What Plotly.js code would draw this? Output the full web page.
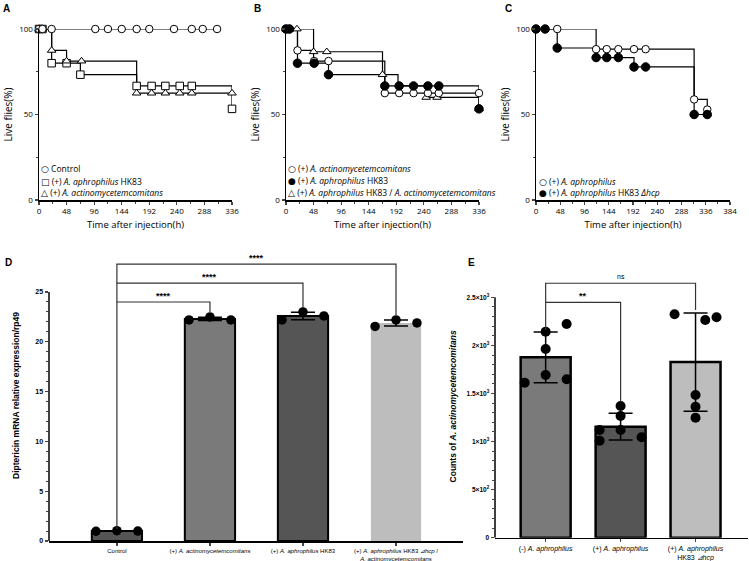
<!DOCTYPE html>
<html><head><meta charset="utf-8">
<script src="https://cdn.plot.ly/plotly-3.0.1.min.js"></script>
<style>html,body{margin:0;padding:0;background:#fff}#chart{width:749px;height:561px}</style>
</head><body><div id="chart"></div>
<script>
// ================= DATA =================
// Survival tick labels
const survTicksAB = [0, 48, 96, 144, 192, 240, 288, 336];
const survTicksC = [0, 48, 96, 144, 192, 240, 288, 336, 384];
const survYTicks = [0, 50, 100];

// Panel A
const aNames = ['Control', '(+) <i>A. aphrophilus</i> HK83', '(+) <i>A. actinomycetemcomitans</i>'];
const aCtrlStepT = [0, 312];
const aCtrlStepS = [100, 100];
const aCtrlMarkT = [0, 6, 22, 98, 120, 144, 170, 192, 235, 266, 285, 310];
const aCtrlMarkS = [100, 100, 100, 100, 100, 100, 100, 100, 100, 100, 100, 100];
const aHkStepT = [0, 22, 72, 170, 336];
const aHkStepS = [100, 80, 73.3, 66.7, 53.3];
const aHkMarkT = [0, 6, 22, 48, 72, 170, 196, 220, 245, 266, 336];
const aHkMarkS = [100, 100, 80, 80, 73.3, 66.7, 66.7, 66.7, 66.7, 66.7, 53.3];
const aAaStepT = [0, 22, 48, 170, 336];
const aAaStepS = [100, 87.5, 81.25, 62.5, 62.5];
const aAaMarkT = [0, 6, 22, 48, 74, 170, 196, 220, 245, 266, 336];
const aAaMarkS = [100, 100, 87.5, 81.25, 81.25, 62.5, 62.5, 62.5, 62.5, 62.5, 62.5];

// Panel B
const bNames = ['(+) <i>A. actinomycetemcomitans</i>', '(+) <i>A. aphrophilus</i> HK83', '(+) <i>A. aphrophilus</i> HK83 / <i>A. actinomycetemcomitans</i>'];
const bAaStepT = [0, 20, 48, 172, 336];
const bAaStepS = [100, 87.5, 81.25, 62.5, 62.5];
const bAaMarkT = [0, 6, 20, 49, 74, 172, 197, 222, 247, 266, 336];
const bAaMarkS = [100, 100, 87.5, 81.25, 81.25, 62.5, 62.5, 62.5, 62.5, 62.5, 62.5];
const bHkStepT = [0, 20, 74, 172, 336];
const bHkStepS = [100, 80, 73.3, 66.7, 53.3];
const bHkMarkT = [0, 6, 20, 49, 74, 172, 197, 222, 247, 266, 336];
const bHkMarkS = [100, 100, 80, 80, 73.3, 66.7, 66.7, 66.7, 66.7, 66.7, 53.3];
const bMixStepT = [0, 48, 168, 195, 244, 336];
const bMixStepS = [100, 86.7, 73.3, 66.7, 60, 53.3];
const bMixMarkT = [0, 6, 19, 48, 71, 168, 244, 263, 336];
const bMixMarkS = [100, 100, 100, 86.7, 86.7, 73.3, 60, 60, 53.3];

// Panel C
const cNames = ['(+) <i>A. aphrophilus</i>', '(+) <i>A. aphrophilus</i> HK83 <i>Δhcp</i>'];
const cApStepT = [0, 119, 313, 339];
const cApStepS = [100, 88.2, 58.8, 52.9];
const cApMarkT = [0, 42, 119, 140, 163, 194, 217, 313, 339];
const cApMarkS = [100, 100, 88.2, 88.2, 88.2, 88.2, 88.2, 58.8, 52.9];
const cDhStepT = [0, 42, 119, 194, 313, 339];
const cDhStepS = [100, 88.9, 83.3, 77.8, 50, 50];
const cDhMarkT = [0, 18, 42, 119, 140, 163, 194, 217, 313, 339];
const cDhMarkS = [100, 100, 88.9, 83.3, 83.3, 83.3, 77.8, 77.8, 50, 50];

// Panel D
const dCategories = ['Control', '(+) <i>A. actinomycetemcomitans</i>', '(+) <i>A. aphrophilus</i> HK83',
  '(+) <i>A. aphrophilus</i> HK83 <i>⊿hcp</i> /<br><i>A. actinomycetemcomitans</i>'];
const dMeans = [1.0, 22.3, 22.6, 21.9];
const dSD = [0.03, 0.17, 0.38, 0.3];
const dPoints = [[0.98, 1.04, 1.0], [22.2, 22.5, 22.2], [22.2, 23.0, 22.6], [21.55, 22.2, 21.9]];
const dYTicks = [0, 5, 10, 15, 20, 25];
const dBrackets = [[0, 1], [0, 2], [0, 3]];
const dBracketY = [24.0, 25.9, 27.8];
const dBracketEnds = [23.0, 23.4, 22.7];
const dBracketLabels = ['****', '****', '****'];

// Panel E
const eCategories = ['(-) <i>A. aphrophilus</i>', '(+) <i>A. aphrophilus</i>', '(+) <i>A. aphrophilus</i><br>HK83 <i>⊿hcp</i>'];
const eMeans = [1876, 1154, 1826];
const eSD = [264, 139, 512];
const ePoints = [[1612, 2142, 2222, 1962, 1692, 1647], [1370, 1266, 1120, 1120, 1009, 1044], [2323, 2264, 2292, 1484, 1362, 1248]];
const eYTicks = [0, 500, 1000, 1500, 2000, 2500];
const eYTickText = ['0', '5×10<sup>2</sup>', '1×10<sup>3</sup>', '1.5×10<sup>3</sup>', '2×10<sup>3</sup>', '2.5×10<sup>3</sup>'];
const eBrackets = [[0, 1], [0, 2]];
const eBracketY = [2448, 2646];
const eBracketEnds = [1414, 2368];
const eBracketStart = 2160;
const eBracketLabels = ['**', 'ns'];

// ================= STYLE =================
const W = 749, H = 561;
const px = v => v / W, py = v => 1 - v / H;
const survFont = 'Open Sans, Noto Sans, sans-serif';
const arial = 'Liberation Sans, Arial, sans-serif';
// point jitter offsets (category units)
const dJit = [[-0.225, 0, 0.225], [-0.225, 0, 0.225], [-0.225, 0, 0.225], [-0.225, 0, 0.225]];
const eJit = [[-0.28, 0, 0.28, 0, 0, 0.28], [0, 0, -0.28, 0, -0.28, 0.28], [-0.28, 0.13, 0.28, 0, 0, 0]];

const traces = [];
function survLine(xa, ya, t, s) {
  traces.push({type: 'scatter', mode: 'lines', x: t, y: s, xaxis: xa, yaxis: ya,
    line: {shape: 'hv', color: '#000', width: 1.2}, hoverinfo: 'skip', cliponaxis: false});
}
function survMarks(xa, ya, t, s, symbol, filled) {
  traces.push({type: 'scatter', mode: 'markers', x: t, y: s, xaxis: xa, yaxis: ya,
    marker: {symbol: symbol, size: filled ? 8.5 : 7.5, color: filled ? '#000' : '#fff', line: {color: '#000', width: 1}},
    cliponaxis: false});
}
// A
survLine('x', 'y', aCtrlStepT, aCtrlStepS);
survLine('x', 'y', aHkStepT, aHkStepS);
survLine('x', 'y', aAaStepT, aAaStepS);
survMarks('x', 'y', aHkMarkT, aHkMarkS, 'square', false);
survMarks('x', 'y', aAaMarkT, aAaMarkS, 'triangle-up', false);
survMarks('x', 'y', aCtrlMarkT, aCtrlMarkS, 'circle', false);
// B
survLine('x2', 'y2', bAaStepT, bAaStepS);
survLine('x2', 'y2', bHkStepT, bHkStepS);
survLine('x2', 'y2', bMixStepT, bMixStepS);
survMarks('x2', 'y2', bMixMarkT, bMixMarkS, 'triangle-up', false);
survMarks('x2', 'y2', bAaMarkT, bAaMarkS, 'circle', false);
survMarks('x2', 'y2', bHkMarkT, bHkMarkS, 'circle', true);
// C
survLine('x3', 'y3', cApStepT, cApStepS);
survLine('x3', 'y3', cDhStepT, cDhStepS);
survMarks('x3', 'y3', cApMarkT, cApMarkS, 'circle', false);
survMarks('x3', 'y3', cDhMarkT, cDhMarkS, 'circle', true);

// D bars
const dIdx = dCategories.map((_, i) => i);
traces.push({type: 'bar', x: dIdx, y: dMeans, xaxis: 'x4', yaxis: 'y4', width: 0.54,
  marker: {color: ['#555555', '#7a7a7a', '#555555', '#bdbdbd'], line: {color: '#000', width: [2, 2, 2, 0]}},
  error_y: {type: 'data', array: dSD, visible: true, color: '#000', thickness: 1.5, width: 12}});
const dpx = [], dpy = [];
dPoints.forEach((arr, i) => arr.forEach((v, j) => { dpx.push(i + dJit[i][j]); dpy.push(v); }));
traces.push({type: 'scatter', mode: 'markers', x: dpx, y: dpy, xaxis: 'x4', yaxis: 'y4',
  marker: {color: '#000', size: 9.5}, cliponaxis: false});

// E bars
const eIdx = eCategories.map((_, i) => i);
traces.push({type: 'bar', x: eIdx, y: eMeans, xaxis: 'x5', yaxis: 'y5', width: 0.667,
  marker: {color: ['#7a7a7a', '#555555', '#bdbdbd'], line: {color: '#000', width: 2.5}},
  error_y: {type: 'data', array: eSD, visible: true, color: '#000', thickness: 1.5, width: 12}});
const epx = [], epy = [];
ePoints.forEach((arr, i) => arr.forEach((v, j) => { epx.push(i + eJit[i][j]); epy.push(v); }));
traces.push({type: 'scatter', mode: 'markers', x: epx, y: epy, xaxis: 'x5', yaxis: 'y5',
  marker: {color: '#000', size: 10}, cliponaxis: false});

// ================= AXES =================
function survX(dom, ticks, anchor) {
  return {domain: dom, anchor: anchor, range: [0, ticks[ticks.length - 1]], tickvals: ticks,
    showline: true, linecolor: '#000', linewidth: 1.5, ticks: 'outside', ticklen: 3, tickwidth: 1.2,
    minor: {tickvals: ticks.slice(0, -1).map(v => v + 24), ticks: 'outside', ticklen: 2, tickwidth: 1},
    tickfont: {family: survFont, size: 8, color: '#000'}, zeroline: false, showgrid: false,
    title: {text: 'Time after injection(h)', font: {family: survFont, size: 9.5, color: '#000'}, standoff: 6}};
}
function survY(anchor) {
  return {domain: [py(200), py(29)], anchor: anchor, range: [0, 100], tickvals: survYTicks,
    showline: true, linecolor: '#000', linewidth: 1.5, ticks: 'outside', ticklen: 3, tickwidth: 1.2,
    minor: {tickvals: [25, 75], ticks: 'outside', ticklen: 2, tickwidth: 1},
    tickfont: {family: survFont, size: 8, color: '#000'}, zeroline: false, showgrid: false,
    title: {text: 'Live flies(%)', font: {family: survFont, size: 10, color: '#000'}, standoff: 4}};
}
const dMinor = []; for (let v = 1; v < 25; v++) if (v % 5) dMinor.push(v);
const eMinor = []; for (let v = 100; v < 2500; v += 100) if (v % 500) eMinor.push(v);

const layout = {
  width: W, height: H, margin: {l: 0, r: 0, t: 0, b: 0}, paper_bgcolor: '#fff', plot_bgcolor: 'rgba(0,0,0,0)',
  showlegend: false,
  xaxis: survX([px(39), px(232)], survTicksAB, 'y'),
  yaxis: survY('x'),
  xaxis2: survX([px(286), px(479)], survTicksAB, 'y2'),
  yaxis2: survY('x2'),
  xaxis3: survX([px(536), px(730)], survTicksC, 'y3'),
  yaxis3: survY('x3'),
  xaxis4: {domain: [px(49), px(463)], anchor: 'y4', range: [-0.73, 3.72], tickvals: dIdx, ticktext: dCategories,
    showline: true, linecolor: '#000', linewidth: 1.5, ticks: 'outside', ticklen: 3, tickwidth: 1.2,
    tickfont: {family: arial, size: 6, color: '#000'}, zeroline: false, showgrid: false},
  yaxis4: {domain: [py(541), py(250)], anchor: 'x4', range: [0, 29.22], tickvals: dYTicks,
    showline: false, ticks: 'outside', ticklen: 3.5, tickwidth: 1.2,
    minor: {tickvals: dMinor, ticks: 'outside', ticklen: 2, tickwidth: 1},
    tickfont: {family: arial, size: 7, color: '#000', weight: 'bold'}, zeroline: false, showgrid: false,
    title: {text: 'Diptericin mRNA relative expression/rp49', font: {family: arial, size: 8.5, color: '#000', weight: 'bold'}, standoff: 14}},
  xaxis5: {domain: [px(495), px(748)], anchor: 'y5', range: [-0.676, 2.70], tickvals: eIdx, ticktext: eCategories,
    showline: true, linecolor: '#000', linewidth: 1.5, ticks: 'outside', ticklen: 3, tickwidth: 1.2,
    tickfont: {family: arial, size: 7, color: '#000'}, zeroline: false, showgrid: false},
  yaxis5: {domain: [py(537.7), py(275)], anchor: 'x5', range: [0, 2732], tickvals: eYTicks, ticktext: eYTickText,
    showline: false, ticks: 'outside', ticklen: 3.5, tickwidth: 1.2,
    minor: {tickvals: eMinor, ticks: 'outside', ticklen: 2, tickwidth: 1},
    tickfont: {family: arial, size: 6.5, color: '#000', weight: 'bold'}, zeroline: false, showgrid: false,
    title: {text: 'Counts of <i>A. actinomycetemcomitans</i>', font: {family: arial, size: 8.5, color: '#000', weight: 'bold'}, standoff: 8}},
  shapes: [], annotations: []
};

// custom y axis lines (only up to top tick)
layout.shapes.push({type: 'line', xref: 'x4 domain', yref: 'y4', x0: 0, x1: 0, y0: 0, y1: 25, line: {color: '#000', width: 1.5}});
layout.shapes.push({type: 'line', xref: 'x5 domain', yref: 'y5', x0: 0, x1: 0, y0: 0, y1: 2500, line: {color: '#000', width: 1.5}});

// D brackets
dBrackets.forEach((b, k) => {
  const yTop = dBracketY[k];
  layout.shapes.push({type: 'path', xref: 'x4', yref: 'y4',
    path: `M ${b[0]} ${k === 0 ? 1.2 : dBracketY[k - 1]} L ${b[0]} ${yTop} L ${b[1]} ${yTop} L ${b[1]} ${dBracketEnds[k]}`,
    line: {color: '#333', width: 1.2}});
  layout.annotations.push({xref: 'x4', yref: 'y4', x: (b[0] + b[1]) / 2, y: yTop, yanchor: 'bottom', yshift: -1,
    text: dBracketLabels[k], showarrow: false, font: {family: arial, size: 9, color: '#000', weight: 'bold'}});
});
// E brackets
eBrackets.forEach((b, k) => {
  const yTop = eBracketY[k];
  layout.shapes.push({type: 'path', xref: 'x5', yref: 'y5',
    path: `M ${b[0]} ${k === 0 ? eBracketStart : eBracketY[k - 1]} L ${b[0]} ${yTop} L ${b[1]} ${yTop} L ${b[1]} ${eBracketEnds[k]}`,
    line: {color: '#333', width: 1.2}});
  layout.annotations.push({xref: 'x5', yref: 'y5', x: (b[0] + b[1]) / 2, y: yTop, yanchor: 'bottom', yshift: k === 0 ? -1 : 1,
    text: eBracketLabels[k], showarrow: false, font: {family: arial, size: k === 0 ? 9 : 7, color: '#000', weight: k === 0 ? 'bold' : 'normal'}});
});

// Panel letters
[['A', 7, 8], ['B', 257, 8], ['C', 508, 8], ['D', 8, 262], ['E', 471, 262]].forEach(l => {
  layout.annotations.push({xref: 'paper', yref: 'paper', x: px(l[1]), y: py(l[2]), xanchor: 'center', yanchor: 'middle',
    text: '<b>' + l[0] + '</b>', showarrow: false, font: {family: arial, size: 10, color: '#000'}});
});

// Legends (symbol + label as text)
function legendItem(xPix, yPix, sym, label) {
  layout.annotations.push({xref: 'paper', yref: 'paper', x: px(xPix), y: py(yPix), xanchor: 'left', yanchor: 'middle',
    text: '<span style="font-family:DejaVu Sans;font-size:9px">' + sym + '</span> ' + label, showarrow: false,
    borderpad: 0, font: {family: survFont, size: 8.5, color: '#000'}});
}
const aSyms = ['○', '□', '△'];
aNames.forEach((n, i) => legendItem(40, [168.3, 181, 192.7][i], aSyms[i], n));
const bSyms = ['○', '●', '△'];
bNames.forEach((n, i) => legendItem(287, [168.3, 180.7, 192.7][i], bSyms[i], n));
const cSyms = ['○', '●'];
cNames.forEach((n, i) => legendItem(538, [181.7, 192.7][i], cSyms[i], n));

Plotly.newPlot('chart', traces, layout, {staticPlot: true, displayModeBar: false});
</script>
</body></html>
